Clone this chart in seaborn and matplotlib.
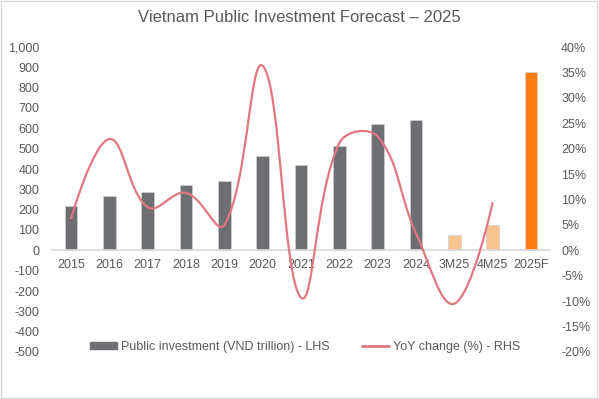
import matplotlib
matplotlib.use("Agg")
import matplotlib.pyplot as plt
import seaborn as sns
import numpy as np
from matplotlib.path import Path
from matplotlib.patches import PathPatch, Patch, Rectangle
from matplotlib.lines import Line2D
from matplotlib.ticker import FuncFormatter, MultipleLocator

categories = ["2015", "2016", "2017", "2018", "2019", "2020", "2021",
              "2022", "2023", "2024", "3M25", "4M25", "2025F"]
investment = [219, 265, 288, 323, 341, 466, 422, 512, 621, 640, 77, 126, 875]
# YoY change (%), no value for 2025F
yoy_change = [6.3, 21.9, 8.5, 11.3, 5.0, 36.3, -9.3, 21.1, 22.4, 3.4, -10.5, 9.3]

bar_colors = ["#6e6f73"] * 10 + ["#f8c591", "#f8c591", "#ff7c0e"]
line_color = "#e07783"
text_color = "#595959"


def smooth_path(ax, ys, tension=0.4):
    # excel-like smoothed line, built as bezier curves in screen space
    xs = np.arange(len(ys))
    pts = ax.transData.transform(np.column_stack([xs, ys]))
    n = len(pts)
    before = pts.copy()
    after = pts.copy()
    for i in range(1, n - 1):
        d01 = np.hypot(*(pts[i] - pts[i - 1]))
        d12 = np.hypot(*(pts[i + 1] - pts[i]))
        fa = tension * d01 / (d01 + d12)
        fb = tension * d12 / (d01 + d12)
        before[i] = pts[i] - fa * (pts[i + 1] - pts[i - 1])
        after[i] = pts[i] + fb * (pts[i + 1] - pts[i - 1])
    verts = [pts[0]]
    codes = [Path.MOVETO]
    for i in range(n - 1):
        verts += [after[i], before[i + 1], pts[i + 1]]
        codes += [Path.CURVE4] * 3
    verts = ax.transData.inverted().transform(np.array(verts))
    return Path(verts, codes)


sns.set_style("white")
plt.rcParams["font.family"] = ["Liberation Sans", "DejaVu Sans"]

fig = plt.figure(figsize=(5.99, 3.99), dpi=100)
ax = fig.add_axes([52 / 599, 1 - 352 / 399, 498 / 599, 305 / 399])

sns.barplot(x=categories, y=investment, hue=categories, palette=bar_colors,
            legend=False, width=0.33, edgecolor="#d0d0d0", linewidth=0.5,
            saturation=1, ax=ax)
ax.set_xlim(-0.5, len(categories) - 0.5)
ax.set_ylim(-500, 1000)
ax.yaxis.set_major_locator(MultipleLocator(100))
ax.yaxis.set_major_formatter(FuncFormatter(lambda v, p: f"{v:,.0f}"))
ax.set_xlabel("")
ax.set_ylabel("")
for s in ["top", "left", "right"]:
    ax.spines[s].set_visible(False)
ax.spines["bottom"].set_position(("data", 0))
ax.spines["bottom"].set_color("#d9d9d9")
ax.spines["bottom"].set_linewidth(1.2)
ax.tick_params(axis="x", length=0, pad=6, labelsize=9, labelcolor=text_color)
ax.tick_params(axis="y", length=0, pad=9, labelsize=9, labelcolor=text_color)

ax2 = ax.twinx()
ax2.set_ylim(-20, 40)
ax2.yaxis.set_major_locator(MultipleLocator(5))
ax2.yaxis.set_major_formatter(FuncFormatter(lambda v, p: f"{v:.0f}%"))
for s in ax2.spines.values():
    s.set_visible(False)
ax2.tick_params(axis="y", length=0, pad=8, labelsize=9, labelcolor=text_color)
ax2.add_patch(PathPatch(smooth_path(ax2, yoy_change), fill=False,
                        edgecolor=line_color, linewidth=1.6, capstyle="round"))

fig.text(0.5, 1 - 18 / 399, "Vietnam Public Investment Forecast \u2013 2025",
         ha="center", va="center", fontsize=12, color=text_color)

handles = [Patch(facecolor="#6e6f73", edgecolor="#6e6f73"),
           Line2D([0], [0], color=line_color, lw=2)]
labels = ["Public investment (VND trillion) - LHS", "YoY change (%) - RHS"]
fig.legend(handles, labels, loc="center", bbox_to_anchor=(305 / 599, 1 - 347 / 399),
           ncol=2, frameon=False, fontsize=9, handlelength=2.2, handleheight=0.5,
           columnspacing=2.6, handletextpad=0.3, labelcolor=text_color)

fig.patches.append(Rectangle((0.002, 0.003), 0.994, 0.994, transform=fig.transFigure,
                             fill=False, edgecolor="#d9d9d9", linewidth=1))

fig.savefig("out.png", dpi=100)
